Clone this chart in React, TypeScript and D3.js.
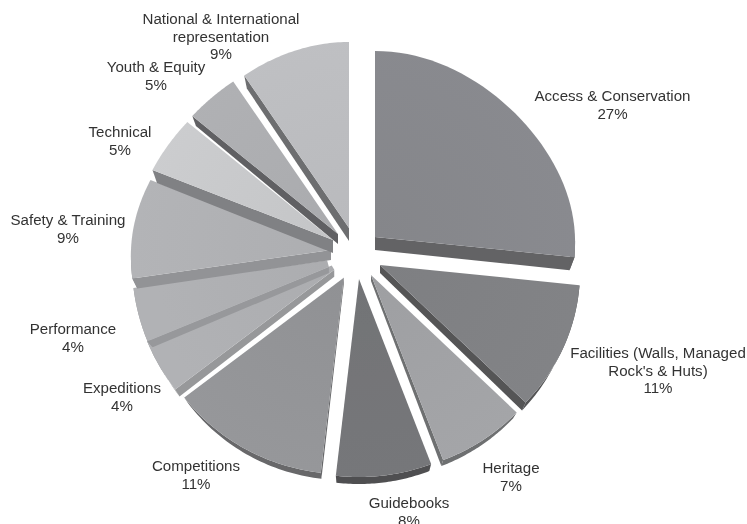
import React from "react";
import * as d3 from "d3";

const categories = ["Access & Conservation","Facilities","Heritage","Guidebooks","Competitions","Expeditions","Performance","Safety & Training","Technical","Youth & Equity","National & International"];
const drawnShares = [26.67,10.69,6.94,7.5,12.64,4.17,4.03,9.03,5,4.31,9.03];
const apexDx = [23,28,19,7,-8,-2,4,-21,-19,-14,-3];
const apexDy = [-18,10,20,24,21,3,1,-5,-15,-21,-27];
const radiusScale = [1,1,1,1,1,1.09,1.12,1,1,1,1];
const innerCut = [0,0,0,0,0,0.09,0.13,0,0,0,0];
const depths = [13,8,6,7,6,7,6,10,13,10,13];
const topColors = ["#87888c","#808184","#a1a2a5","#747578","#939497","#aeafb2","#aeafb2","#b0b1b4","#c8c9cb","#adaeb1","#bcbdc0"];
const wallColors = ["#636365","#545456","#6e6f71","#4f4f51","#67686a","#97989a","#97989b","#929396","#808184","#616163","#6d6e70"];
const labelLines = [
  ["Access & Conservation","27%"],
  ["Facilities (Walls, Managed","Rock's & Huts)","11%"],
  ["Heritage","7%"],
  ["Guidebooks","8%"],
  ["Competitions","11%"],
  ["Expeditions","4%"],
  ["Performance","4%"],
  ["Safety & Training","9%"],
  ["Technical","5%"],
  ["Youth & Equity","5%"],
  ["National & International","representation","9%"],
];
const labelX = [612.5,658,511,409,196,122,73,68,120,156,221];
const labelY = [101,358,473,508,471,393,334,225,137,72,24];
const drawOrder = [5,6,4,7,8,9,10,3,2,1,0];
const haloSlice = 4;

const W = 747, H = 524, CX = 352, CY = 255, RX = 200, SHRINK = 0.975;
type P = [number, number];

export default function App() {
  const arcs = d3.pie<number>().sort(null).value(d => d)(drawnShares);
  const rimY = (c: number) => c < 0 ? -192 * c + 6 * c * c : -171 * c + 6 * c * c - 21 * c * c * c;
  const rimX = (t: number) => RX * Math.sin(t) * (1 - 0.03 * Math.cos(t));
  const line = d3.line<P>();
  const sliceShapes = arcs.map((d, i) => {
    const apex = [CX + apexDx[i], CY + apexDy[i]];
    const dep = depths[i];
    const k = radiusScale[i];
    const f = innerCut[i];
    const ts = d3.range(0, 41).map(n => d.startAngle + (d.endAngle - d.startAngle) * n / 40);
    const topP = (t: number): P => [apex[0] + k * rimX(t), apex[1] + k * rimY(Math.cos(t))];
    const botP = (t: number): P => [apex[0] + SHRINK * k * rimX(t), apex[1] + k * rimY(Math.cos(t)) + dep];
    const inner = (t: number): P => [apex[0] + f * k * rimX(t), apex[1] + f * k * rimY(Math.cos(t))];
    const down = (p: P): P => [p[0], p[1] + dep];
    const top = line([inner(d.endAngle), inner(d.startAngle), ...ts.map(topP)]) + "Z";
    const walls: string[] = [];
    if (d.endAngle < Math.PI) walls.push(line([inner(d.endAngle), down(inner(d.endAngle)), botP(d.endAngle), topP(d.endAngle)]) + "Z");
    if (d.startAngle > Math.PI) walls.push(line([inner(d.startAngle), down(inner(d.startAngle)), botP(d.startAngle), topP(d.startAngle)]) + "Z");
    const vis = ts.filter(t => Math.cos(t) < 0.02);
    if (vis.length > 1) walls.push(line([...vis.map(topP), ...vis.slice().reverse().map(botP)]) + "Z");
    const halo = line([inner(d.endAngle), topP(d.endAngle)]) as string;
    return { i, apex, top, walls, halo };
  });
  return (
    <svg width={W} height={H} viewBox={`0 0 ${W} ${H}`} style={{ position: "fixed", left: 0, top: 0, display: "block", background: "#fff" }}>
      <defs>
        <filter id="soft" x="-5%" y="-5%" width="110%" height="110%"><feGaussianBlur stdDeviation="0.4" /></filter>
        {sliceShapes.map(s => {
          const c = d3.color(topColors[s.i])!;
          return (
            <radialGradient key={s.i} id={`g${s.i}`} gradientUnits="userSpaceOnUse" cx={s.apex[0]} cy={s.apex[1]} r={RX}>
              <stop offset="0" stopColor={c.darker(0.05).formatHex()} />
              <stop offset="1" stopColor={c.brighter(0.05).formatHex()} />
            </radialGradient>
          );
        })}
      </defs>
      <g filter="url(#soft)">
        {drawOrder.map(i => {
          const s = sliceShapes[i];
          return (
            <g key={categories[i]}>
              {s.walls.map((w, k) => <path key={k} d={w} fill={wallColors[i]} />)}
              <path d={s.top} fill={`url(#g${i})`} />
              {i === haloSlice && <path d={s.halo} fill="none" stroke="#fff" strokeWidth={2.5} />}
            </g>
          );
        })}
        <g fontFamily="Liberation Sans, Arial, sans-serif" fontSize={15.1} fill="#333" textAnchor="middle">
          {labelLines.map((ls, i) => (
            <text key={i} x={labelX[i]} y={labelY[i]}>
              {ls.map((l, k) => <tspan key={k} x={labelX[i]} dy={k === 0 ? 0 : 17.5}>{l}</tspan>)}
            </text>
          ))}
        </g>
      </g>
    </svg>
  );
}
